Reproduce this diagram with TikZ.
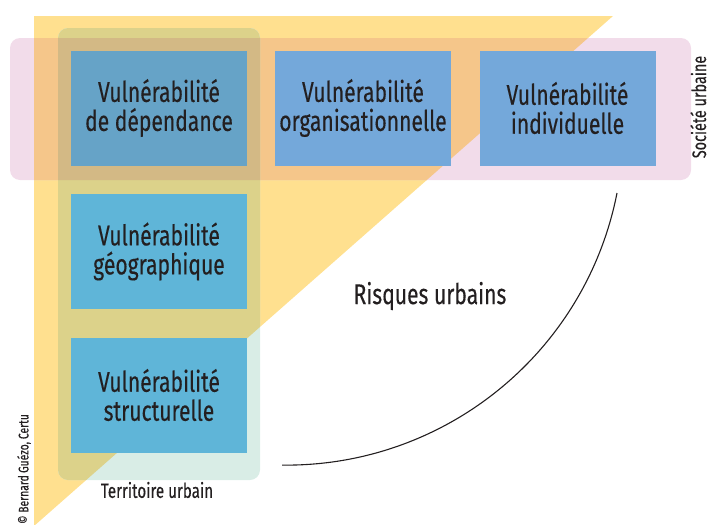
\documentclass[tikz,border=0pt]{standalone}
\usepackage{fontspec}
\setmainfont{Fira Sans}[FakeStretch=0.74, FakeBold=0.3]
\definecolor{yel}{HTML}{FFE08F}
\definecolor{pnk}{HTML}{F2DCEA}
\definecolor{org}{HTML}{F5C68A}
\definecolor{mint}{HTML}{D9EDE6}
\definecolor{olv}{HTML}{DCD28A}
\definecolor{tanc}{HTML}{D3B985}
\definecolor{boxa}{HTML}{66A3C7}
\definecolor{boxb}{HTML}{74A8DA}
\definecolor{boxc}{HTML}{5FB5D8}
\definecolor{txt}{HTML}{231F20}
\tikzset{
  vbox/.style={minimum width=176pt, minimum height=115pt, inner sep=0pt,
    align=center, text=txt, font=\fontsize{28.5}{29}\selectfont},
  lbl/.style={text=txt, inner sep=0pt},
}
\begin{document}
\begin{tikzpicture}[x=1pt,y=-1pt]
\useasboundingbox (0,0) rectangle (710,525);
\def\tri{(34,16) -- (613,16) -- (34,526) -- cycle}
\def\soc{(10,38) rectangle (691,180)}
\def\ter{(58,28) rectangle (260,480)}
% yellow triangle
\fill[yel] \tri;
% societe band
\fill[pnk, rounded corners=10pt] \soc;
\begin{scope}
  \clip \tri;
  \fill[org, rounded corners=10pt] \soc;
\end{scope}
% territoire band
\fill[mint, rounded corners=10pt] \ter;
\begin{scope}
  \clip \tri;
  \fill[olv, rounded corners=10pt] \ter;
  \clip[rounded corners=10pt] \soc;
  \fill[tanc, rounded corners=10pt] \ter;
\end{scope}
% boxes
\node[vbox, fill=boxa] (b1) at (159,108) {Vulnérabilité\\de dépendance};
\node[vbox, fill=boxb] (b2) at (363,108) {Vulnérabilité\\organisationnelle};
\node[vbox, fill=boxb] (b3) at (567.5,108) {Vulnérabilité\\individuelle};
\node[vbox, fill=boxc] (b4) at (159,251.5) {Vulnérabilité\\géographique};
\node[vbox, fill=boxc] (b5) at (159,395) {Vulnérabilité\\structurelle};
% labels
\node[lbl, font=\fontsize{28.5}{29}\selectfont] (risk) at (430,296) {Risques urbains};
\node[lbl, font=\fontsize{20.5}{22}\selectfont] (terr) at (157,490) {Territoire urbain};
\node[lbl, font=\fontsize{19.5}{21}\selectfont, rotate=90, anchor=base, text depth=0pt] (soc) at (706,107) {Société urbaine};
\node[lbl, font=\fontsize{14}{15}\selectfont, rotate=90] (copy) at (24,469) {© Bernard\,Guézo, Certu};
% arc
\coordinate (as) at (617,193);
\draw[line width=1.1pt, txt] (as) arc[start angle=11.1, end angle=90.7, radius=337];
\end{tikzpicture}
\end{document}
